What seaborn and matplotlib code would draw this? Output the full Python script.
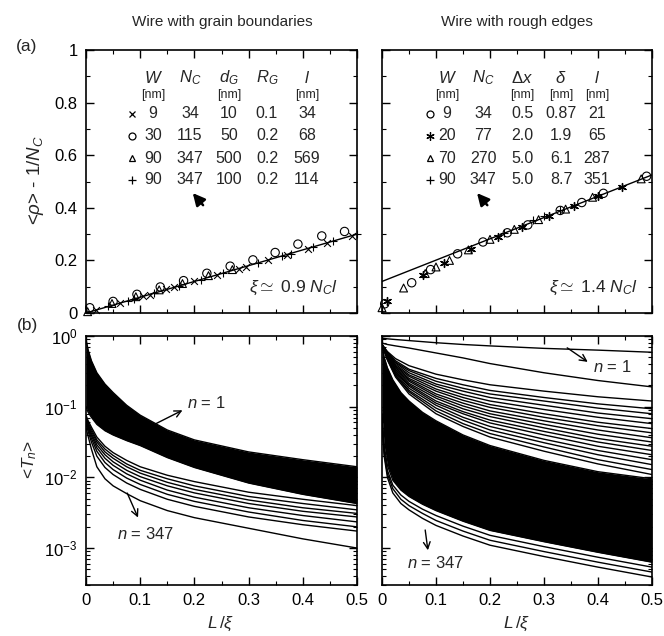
import numpy as np
import pandas as pd
import matplotlib
matplotlib.use("Agg")
import matplotlib.pyplot as plt
import seaborn as sns
from matplotlib.ticker import MultipleLocator, LogLocator, FuncFormatter, NullFormatter
from matplotlib.lines import Line2D

# ---------------- panel (a): data ----------------
# wire with grain boundaries
gb_fit_x = [0.0, 0.5]
gb_fit_y = [0.0, 0.30]
gb_cross_x = [0.018, 0.062, 0.105, 0.118, 0.148, 0.162, 0.2, 0.242, 0.282, 0.295, 0.335, 0.37, 0.41, 0.445, 0.49]
gb_cross_y = [0.012, 0.038, 0.064, 0.07, 0.09, 0.098, 0.12, 0.145, 0.168, 0.176, 0.2, 0.22, 0.245, 0.266, 0.292]
gb_circ_x = [0.007, 0.05, 0.094, 0.137, 0.18, 0.223, 0.266, 0.308, 0.349, 0.391, 0.435, 0.477]
gb_circ_y = [0.020, 0.044, 0.071, 0.099, 0.123, 0.151, 0.178, 0.202, 0.230, 0.262, 0.293, 0.310]
gb_tri_x = [0.003, 0.048, 0.092, 0.135, 0.178, 0.226, 0.27]
gb_tri_y = [0.005, 0.036, 0.062, 0.088, 0.112, 0.142, 0.165]
gb_plus_x = [0.04, 0.078, 0.088, 0.125, 0.172, 0.212, 0.252, 0.318, 0.362, 0.378, 0.418, 0.455, 0.5]
gb_plus_y = [0.025, 0.046, 0.053, 0.075, 0.104, 0.127, 0.151, 0.19, 0.216, 0.226, 0.25, 0.272, 0.3]

# wire with rough edges
re_fit_x = [0.0, 0.5]
re_fit_y = [0.12, 0.525]
re_circ_x = [0.005, 0.055, 0.09, 0.14, 0.187, 0.232, 0.27, 0.33, 0.37, 0.41, 0.49]
re_circ_y = [0.035, 0.115, 0.165, 0.225, 0.27, 0.305, 0.335, 0.39, 0.42, 0.455, 0.52]
re_star_x = [0.01, 0.075, 0.115, 0.165, 0.215, 0.26, 0.31, 0.355, 0.4, 0.445]
re_star_y = [0.045, 0.145, 0.19, 0.245, 0.29, 0.328, 0.37, 0.408, 0.445, 0.48]
re_tri_x = [0.0, 0.04, 0.08, 0.1, 0.125, 0.16, 0.2, 0.245, 0.29, 0.34, 0.39, 0.48]
re_tri_y = [0.02, 0.095, 0.15, 0.175, 0.2, 0.24, 0.28, 0.318, 0.355, 0.395, 0.44, 0.51]
re_plus_x = [0.225, 0.28, 0.3, 0.33, 0.4]
re_plus_y = [0.303, 0.352, 0.37, 0.39, 0.445]

# table contents
gb_header = ["$W$", "$N_C$", "$d_G$", "$R_G$", "$l$"]
gb_units = ["[nm]", "", "[nm]", "", "[nm]"]
gb_rows = [["9", "34", "10", "0.1", "34"],
           ["30", "115", "50", "0.2", "68"],
           ["90", "347", "500", "0.2", "569"],
           ["90", "347", "100", "0.2", "114"]]
re_header = ["$W$", "$N_C$", r"$\Delta x$", r"$\delta$", "$l$"]
re_units = ["[nm]", "", "[nm]", "[nm]", "[nm]"]
re_rows = [["9", "34", "0.5", "0.87", "21"],
           ["20", "77", "2.0", "1.9", "65"],
           ["70", "270", "5.0", "6.1", "287"],
           ["90", "347", "5.0", "8.7", "351"]]

# ---------------- panel (b): data (log10 <T_n>) ----------------
x_band = [0, 0.004, 0.01, 0.02, 0.035, 0.05, 0.075, 0.1, 0.15, 0.2, 0.3, 0.4, 0.5]
# grain boundaries: dense band of channels
gb_band_top = [-0.05, -0.20, -0.35, -0.52, -0.68, -0.80, -0.98, -1.12, -1.33, -1.47, -1.64, -1.75, -1.85]
gb_band_bot = [-1.00, -1.08, -1.15, -1.25, -1.34, -1.40, -1.48, -1.55, -1.72, -1.86, -2.08, -2.24, -2.37]
gb_low = [
    [-1.30, -1.42, -1.60, -1.85, -2.02, -2.12, -2.23, -2.33, -2.47, -2.57, -2.72, -2.87, -3.00],
    [-1.25, -1.35, -1.50, -1.70, -1.86, -1.96, -2.08, -2.17, -2.31, -2.41, -2.56, -2.67, -2.76],
    [-1.22, -1.31, -1.45, -1.63, -1.79, -1.89, -2.01, -2.10, -2.24, -2.34, -2.49, -2.61, -2.70],
    [-1.20, -1.29, -1.41, -1.58, -1.73, -1.83, -1.95, -2.04, -2.18, -2.28, -2.43, -2.54, -2.63],
    [-1.18, -1.27, -1.38, -1.54, -1.68, -1.78, -1.90, -1.99, -2.12, -2.22, -2.37, -2.48, -2.56],
    [-1.16, -1.25, -1.35, -1.50, -1.64, -1.73, -1.85, -1.94, -2.07, -2.17, -2.32, -2.43, -2.51],
    [-1.14, -1.23, -1.32, -1.47, -1.60, -1.69, -1.81, -1.90, -2.02, -2.12, -2.27, -2.37, -2.46],
    [-1.12, -1.20, -1.29, -1.43, -1.56, -1.65, -1.76, -1.85, -1.97, -2.06, -2.21, -2.31, -2.40],
]
# rough edges
re_band_top = [-0.12, -0.30, -0.45, -0.62, -0.80, -0.92, -1.08, -1.20, -1.40, -1.55, -1.76, -1.92, -2.02]
re_band_bot = [-1.10, -1.55, -1.83, -2.04, -2.18, -2.27, -2.38, -2.47, -2.62, -2.75, -2.91, -3.06, -3.20]
re_low = [
    [-1.20, -1.70, -2.00, -2.22, -2.37, -2.46, -2.58, -2.68, -2.83, -2.96, -3.12, -3.27, -3.41],
    [-1.20, -1.66, -1.95, -2.16, -2.31, -2.40, -2.51, -2.61, -2.76, -2.89, -3.05, -3.20, -3.34],
    [-1.20, -1.62, -1.90, -2.11, -2.25, -2.34, -2.45, -2.54, -2.69, -2.82, -2.98, -3.13, -3.27],
]
x_fan = [0, 0.01, 0.025, 0.05, 0.1, 0.15, 0.2, 0.3, 0.4, 0.5]
re_fan = [
    [-0.03, -0.04, -0.05, -0.065, -0.095, -0.12, -0.14, -0.175, -0.20, -0.23],
    [-0.10, -0.12, -0.14, -0.17, -0.24, -0.31, -0.39, -0.52, -0.63, -0.72],
    [-0.12, -0.22, -0.32, -0.42, -0.54, -0.62, -0.69, -0.78, -0.86, -0.92],
    [-0.12, -0.23, -0.35, -0.47, -0.60, -0.69, -0.77, -0.87, -0.96, -1.03],
    [-0.12, -0.24, -0.37, -0.49, -0.64, -0.74, -0.82, -0.92, -1.02, -1.10],
    [-0.12, -0.25, -0.38, -0.52, -0.68, -0.78, -0.87, -0.98, -1.09, -1.17],
    [-0.12, -0.25, -0.40, -0.55, -0.71, -0.83, -0.92, -1.04, -1.15, -1.24],
    [-0.12, -0.26, -0.42, -0.57, -0.75, -0.87, -0.97, -1.10, -1.22, -1.31],
    [-0.12, -0.27, -0.43, -0.60, -0.78, -0.91, -1.01, -1.15, -1.27, -1.37],
    [-0.12, -0.28, -0.45, -0.62, -0.82, -0.95, -1.06, -1.20, -1.33, -1.44],
    [-0.12, -0.29, -0.47, -0.64, -0.85, -0.99, -1.10, -1.25, -1.39, -1.50],
    [-0.12, -0.29, -0.48, -0.67, -0.88, -1.03, -1.14, -1.30, -1.45, -1.56],
    [-0.12, -0.30, -0.50, -0.69, -0.92, -1.07, -1.19, -1.35, -1.50, -1.62],
    [-0.12, -0.31, -0.51, -0.71, -0.95, -1.10, -1.23, -1.40, -1.56, -1.68],
    [-0.12, -0.32, -0.53, -0.74, -0.98, -1.15, -1.28, -1.46, -1.62, -1.75],
    [-0.12, -0.32, -0.55, -0.77, -1.02, -1.19, -1.33, -1.51, -1.68, -1.82],
    [-0.12, -0.33, -0.56, -0.79, -1.06, -1.24, -1.38, -1.57, -1.75, -1.89],
    [-0.12, -0.34, -0.58, -0.82, -1.10, -1.28, -1.43, -1.63, -1.81, -1.96],
]

# ---------------- style ----------------
sns.set_theme(style="ticks")
plt.rcParams["font.family"] = ["Liberation Sans", "DejaVu Sans"]
plt.rcParams["mathtext.fontset"] = "custom"
plt.rcParams["mathtext.rm"] = "Liberation Sans"
plt.rcParams["mathtext.it"] = "Liberation Sans:italic"
plt.rcParams["mathtext.sf"] = "Liberation Sans"
plt.rcParams["axes.linewidth"] = 1.2
FS = 11
TFS = 12   # tick labels
TAB = 11.5 # table

W, H = 664, 636
fig = plt.figure(figsize=(W / 100, H / 100), dpi=100)


def px(x, y):
    return x / W, 1 - y / H


def axes_px(x0, y0, x1, y1):
    return fig.add_axes([x0 / W, 1 - y1 / H, (x1 - x0) / W, (y1 - y0) / H])


TOP0, TOP1 = 50, 313
BOT0, BOT1 = 336, 585
L0, L1 = 86, 357
R0, R1 = 382, 652

ax_a1 = axes_px(L0, TOP0, L1, TOP1)
ax_a2 = axes_px(R0, TOP0, R1, TOP1)
ax_b1 = axes_px(L0, BOT0, L1, BOT1)
ax_b2 = axes_px(R0, BOT0, R1, BOT1)

fmt = FuncFormatter(lambda v, p: "%g" % round(v, 3))

for ax in (ax_a1, ax_a2, ax_b1, ax_b2):
    ax.tick_params(which="both", direction="in", top=True, right=True,
                   labelsize=TFS, colors="black")
    ax.tick_params(which="major", length=6, width=1.0, pad=6)
    ax.tick_params(which="minor", length=3, width=0.8)
    ax.set_xlim(0, 0.5)
    ax.xaxis.set_major_locator(MultipleLocator(0.1))
    ax.xaxis.set_minor_locator(MultipleLocator(0.05))
    ax.xaxis.set_major_formatter(fmt)
    for s in ax.spines.values():
        s.set_color("black")

for ax in (ax_a1, ax_a2):
    ax.set_ylim(0, 1)
    ax.yaxis.set_major_locator(MultipleLocator(0.2))
    ax.yaxis.set_minor_locator(MultipleLocator(0.1))
    ax.yaxis.set_major_formatter(fmt)
    ax.tick_params(labelbottom=False)

ax_a2.tick_params(labelleft=False)
ax_b2.tick_params(labelleft=False)

# ---------------- panel (a) plotting ----------------
def scatter(ax, xs, ys, marker, s, filled=False, lw=0.8):
    if filled:
        sns.scatterplot(x=xs, y=ys, ax=ax, marker=marker, s=s, color="black",
                        linewidth=lw, clip_on=False, zorder=3)
    else:
        sns.scatterplot(x=xs, y=ys, ax=ax, marker=marker, s=s, facecolors="none",
                        edgecolor="black", linewidth=lw, clip_on=False, zorder=3)

sns.lineplot(x=gb_fit_x, y=gb_fit_y, ax=ax_a1, color="black", lw=1.0)
scatter(ax_a1, gb_cross_x, gb_cross_y, "x", 24, filled=True)
scatter(ax_a1, gb_circ_x, gb_circ_y, "o", 36)
scatter(ax_a1, gb_tri_x, gb_tri_y, "^", 32)
scatter(ax_a1, gb_plus_x, gb_plus_y, "+", 40, filled=True)

sns.lineplot(x=re_fit_x, y=re_fit_y, ax=ax_a2, color="black", lw=1.0)
scatter(ax_a2, re_circ_x, re_circ_y, "o", 36)
scatter(ax_a2, re_star_x, re_star_y, (6, 2, 0), 32, filled=True, lw=1.0)
scatter(ax_a2, re_tri_x, re_tri_y, "^", 32)
scatter(ax_a2, re_plus_x, re_plus_y, "+", 40, filled=True)

ax_a1.set_ylabel("")
ax_a2.set_ylabel("")

# tables
def table(col_x, sym_x, header, units, rows, markers):
    ys_rows = [114, 136, 158, 180]
    for cx, h in zip(col_x, header):
        fig.text(*px(cx, 78), h, ha="center", va="center", fontsize=TAB + 0.5)
    for cx, u in zip(col_x, units):
        if u:
            fig.text(*px(cx, 95), u, ha="center", va="center", fontsize=9)
    for ry, row, mk in zip(ys_rows, rows, markers):
        for cx, v in zip(col_x, row):
            fig.text(*px(cx, ry), v, ha="center", va="center", fontsize=TAB)
        m, filled, ms = mk
        fig.add_artist(Line2D([sym_x / W], [1 - ry / H], marker=m, ms=ms,
                              mfc="black" if filled else "none", mec="black",
                              mew=0.9, ls="none", transform=fig.transFigure))

table([153, 190, 229, 267, 307], 132, gb_header, gb_units, gb_rows,
      [("x", True, 5), ("o", False, 5), ("^", False, 5), ("+", True, 6)])
table([447, 483, 522, 561, 597], 430, re_header, re_units, re_rows,
      [("o", False, 5), ((6, 2, 0), True, 6), ("^", False, 5), ("+", True, 6)])

# cursor-like arrows under the tables
cursor = dict(arrowstyle="-|>,head_length=0.9,head_width=0.45", lw=1.8,
              color="black", mutation_scale=8, shrinkA=0, shrinkB=0)
ax_a1.annotate("", xy=(0.197, 0.456), xytext=(0.216, 0.41), arrowprops=cursor)
ax_a2.annotate("", xy=(0.176, 0.456), xytext=(0.195, 0.41), arrowprops=cursor)

ax_a1.text(0.465, 0.095, r"$\xi \simeq$ 0.9 $N_C l$", ha="right", va="center", fontsize=12.5)
ax_a2.text(0.474, 0.095, r"$\xi \simeq$ 1.4 $N_C l$", ha="right", va="center", fontsize=12.5)

# ---------------- panel (b) plotting ----------------
def curves_df(xs, list_of_logs, prefix):
    recs = []
    for i, c in enumerate(list_of_logs):
        for xv, lv in zip(xs, c):
            recs.append((f"{prefix}{i}", xv, 10.0 ** lv))
    return pd.DataFrame(recs, columns=["curve", "x", "T"])

for ax in (ax_b1, ax_b2):
    ax.set_yscale("log")
    ax.set_ylim(3.0e-4, 1.0)
    ax.yaxis.set_major_locator(LogLocator(base=10, numticks=10))
    ax.yaxis.set_minor_locator(LogLocator(base=10, subs=np.arange(2, 10), numticks=20))
    ax.yaxis.set_minor_formatter(NullFormatter())

tb = 10.0 ** np.array(gb_band_top)
bb = 10.0 ** np.array(gb_band_bot)
ax_b1.fill_between(x_band, bb, tb, color="black", lw=0)
df = curves_df(x_band, [gb_band_top, gb_band_bot] + gb_low, "gb")
sns.lineplot(data=df, x="x", y="T", units="curve", estimator=None, color="black",
             lw=1.0, ax=ax_b1)

tb = 10.0 ** np.array(re_band_top)
bb = 10.0 ** np.array(re_band_bot)
ax_b2.fill_between(x_band, bb, tb, color="black", lw=0)
df = curves_df(x_band, [re_band_top, re_band_bot] + re_low, "re")
sns.lineplot(data=df, x="x", y="T", units="curve", estimator=None, color="black",
             lw=1.0, ax=ax_b2)
df = curves_df(x_fan, re_fan, "fan")
sns.lineplot(data=df, x="x", y="T", units="curve", estimator=None, color="black",
             lw=1.0, ax=ax_b2)

for ax in (ax_b1, ax_b2):
    ax.set_xlabel("")
    ax.set_ylabel("")
    ax.set_xlim(0, 0.5)
    ax.set_ylim(3.0e-4, 1.0)

arrow = dict(arrowstyle="->", lw=1.0, color="black", shrinkA=0, shrinkB=0)
ax_b1.annotate("", xy=(0.178, 0.089), xytext=(0.124, 0.055), arrowprops=arrow)
ax_b1.text(0.186, 0.112, "$n$ = 1", ha="left", va="center", fontsize=12)
ax_b1.annotate("", xy=(0.096, 0.0027), xytext=(0.076, 0.006), arrowprops=arrow)
ax_b1.text(0.109, 0.0016, "$n$ = 347", ha="center", va="center", fontsize=12)
ax_b2.annotate("", xy=(0.381, 0.43), xytext=(0.343, 0.68), arrowprops=arrow)
ax_b2.text(0.39, 0.36, "$n$ = 1", ha="left", va="center", fontsize=12)
ax_b2.annotate("", xy=(0.085, 0.00093), xytext=(0.08, 0.0018), arrowprops=arrow)
ax_b2.text(0.10, 0.00062, "$n$ = 347", ha="center", va="center", fontsize=12)

# ---------------- figure texts ----------------
fig.text(*px(222, 22), "Wire with grain boundaries", ha="center", va="center", fontsize=FS)
fig.text(*px(517, 22), "Wire with rough edges", ha="center", va="center", fontsize=FS)
fig.text(*px(27, 47), "(a)", ha="center", va="center", fontsize=12.5)
fig.text(*px(27, 325), "(b)", ha="center", va="center", fontsize=12.5)
fig.text(*px(36, 180), r"<$\rho$> - 1/$N_C$", ha="center", va="center", rotation=90, fontsize=13.5)
fig.text(*px(30, 459), r"<$T_n$>", ha="center", va="center", rotation=90, fontsize=12.5)
fig.text(*px(221, 624), r"$L\,/\xi$", ha="center", va="center", fontsize=12.5)
fig.text(*px(517, 624), r"$L\,/\xi$", ha="center", va="center", fontsize=12.5)

fig.savefig("out.png", dpi=100)
